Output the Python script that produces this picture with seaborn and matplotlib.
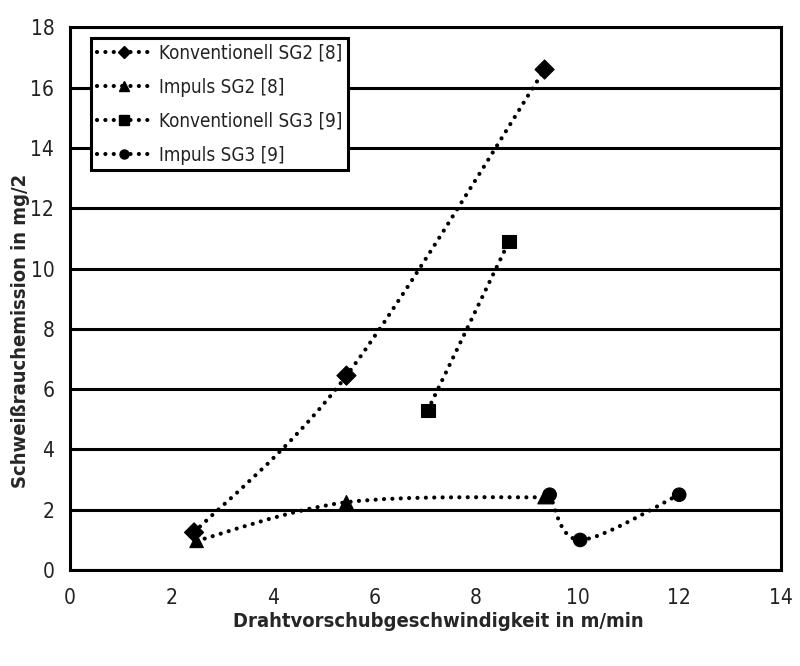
import numpy as np
import pandas as pd
import matplotlib
matplotlib.use("Agg")
import matplotlib.pyplot as plt
import seaborn as sns
from matplotlib.path import Path
from matplotlib.patches import PathPatch
from matplotlib.lines import Line2D

# ---------------- data ----------------
series_names = ["Konventionell SG2 [8]", "Impuls SG2 [8]",
                "Konventionell SG3 [9]", "Impuls SG3 [9]"]

konv_sg2_x = [2.45, 5.45, 9.35]
konv_sg2_y = [1.25, 6.45, 16.6]

imp_sg2_x = [2.5, 5.45, 9.35]
imp_sg2_y = [0.97, 2.25, 2.42]

konv_sg3_x = [7.05, 8.65]
konv_sg3_y = [5.3, 10.9]

imp_sg3_x = [9.45, 10.05, 12.0]
imp_sg3_y = [2.5, 1.0, 2.5]

marker_styles = ["D", "^", "s", "o"]
x_ticks = [0, 2, 4, 6, 8, 10, 12, 14]
y_ticks = [0, 2, 4, 6, 8, 10, 12, 14, 16, 18]

xs_all = [konv_sg2_x, imp_sg2_x, konv_sg3_x, imp_sg3_x]
ys_all = [konv_sg2_y, imp_sg2_y, konv_sg3_y, imp_sg3_y]

df = pd.concat([
    pd.DataFrame({"x": xs, "y": ys, "Serie": name})
    for name, xs, ys in zip(series_names, xs_all, ys_all)
], ignore_index=True)

# ---------------- style ----------------
sns.set_theme(style="white")
plt.rcParams["font.family"] = ["DejaVu Sans"]

fig = plt.figure(figsize=(8.0, 6.66), dpi=100)
ax = fig.add_axes([0.087, 0.144, 0.889, 0.815])

dotted = (0, (0.01, 2.0))


def smooth_path(xs, ys):
    # Catmull-Rom style bezier through the points (like Excel "smoothed line")
    pts = np.column_stack([xs, ys]).astype(float)
    n = len(pts)
    verts = [pts[0]]
    codes = [Path.MOVETO]
    for i in range(n - 1):
        p0 = pts[max(i - 1, 0)]
        p1 = pts[i]
        p2 = pts[i + 1]
        p3 = pts[min(i + 2, n - 1)]
        c1 = p1 + (p2 - p0) / 6.0
        c2 = p2 - (p3 - p1) / 6.0
        verts += [c1, c2, p2]
        codes += [Path.CURVE4] * 3
    return Path(verts, codes)


for xs, ys in zip(xs_all, ys_all):
    patch = PathPatch(smooth_path(xs, ys), fill=False, edgecolor="black",
                      lw=3.0, linestyle=dotted, capstyle="round", zorder=3)
    ax.add_patch(patch)

sns.scatterplot(
    data=df, x="x", y="y", style="Serie",
    markers=dict(zip(series_names, marker_styles)),
    color="black", edgecolor="black", s=95, legend=False, ax=ax, zorder=4
)

ax.set_xlim(0, 14)
ax.set_ylim(0, 18)
ax.set_xticks(x_ticks)
ax.set_yticks(y_ticks)

ax.yaxis.grid(True, color="black", lw=2.2)
ax.xaxis.grid(False)
ax.set_axisbelow(True)
for sp in ax.spines.values():
    sp.set_color("black")
    sp.set_linewidth(2.2)

ax.tick_params(axis="both", direction="out", length=6, width=2,
               color="black", labelcolor="#222222", labelsize=15)
ax.tick_params(axis="y", pad=5)
ax.tick_params(axis="x", pad=7)
for lab in ax.get_xticklabels() + ax.get_yticklabels():
    lab.set_fontstretch("condensed")

ax.set_xlabel("Drahtvorschubgeschwindigkeit in m/min", fontsize=14.5,
              fontweight="bold", fontstretch="condensed")
ax.set_ylabel("Schweißrauchemission in mg/2", fontsize=14.5,
              fontweight="bold", fontstretch="condensed")
ax.xaxis.set_label_coords(0.518, -0.078)
ax.yaxis.set_label_coords(-0.056, 0.44)

handles = [
    Line2D([0], [0], color="black", lw=3.0, linestyle=dotted,
           dash_capstyle="round", marker=m, markersize=6.5,
           markerfacecolor="black", markeredgecolor="black")
    for m in marker_styles
]
leg = ax.legend(handles, series_names, loc="upper left",
                bbox_to_anchor=(0.03, 0.98), borderaxespad=0,
                fontsize=13.5, frameon=True,
                fancybox=False, framealpha=1, edgecolor="black",
                handlelength=2.9, handletextpad=0.45, labelspacing=0.8,
                borderpad=0.3)
leg.get_frame().set_linewidth(2.2)
for t in leg.get_texts():
    t.set_color("#222222")
    t.set_fontstretch("condensed")

fig.savefig("out.png", dpi=100)
